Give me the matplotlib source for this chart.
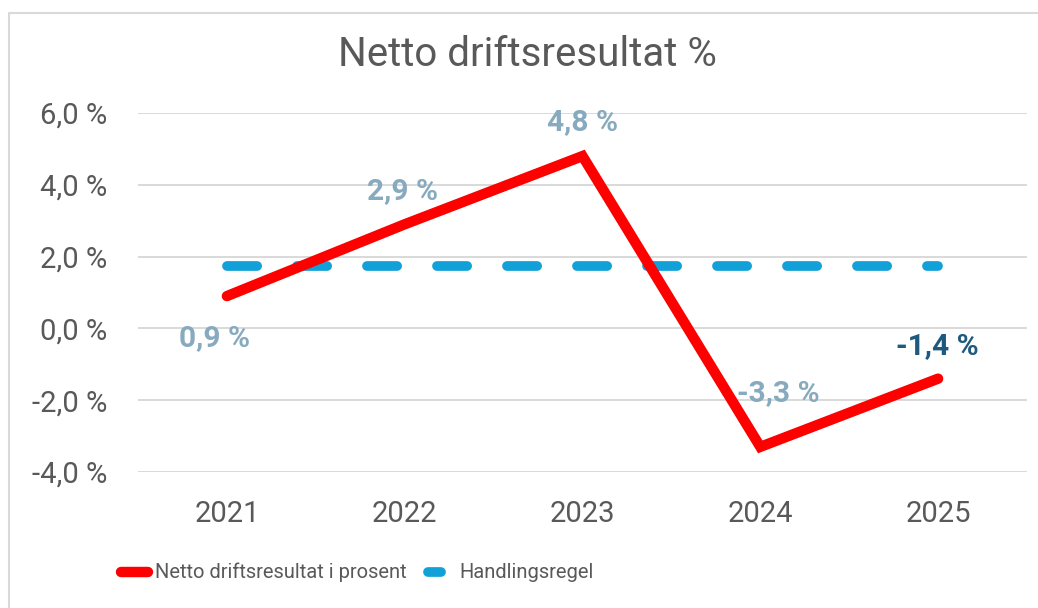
import matplotlib
matplotlib.use("Agg")
import matplotlib.pyplot as plt
from matplotlib.lines import Line2D
from matplotlib.ticker import FuncFormatter, MultipleLocator

# data
years = ["2021", "2022", "2023", "2024", "2025"]
netto = [0.9, 2.9, 4.8, -3.3, -1.4]
handlingsregel = [1.75, 1.75, 1.75, 1.75, 1.75]
label_texts = ["0,9 %", "2,9 %", "4,8 %", "-3,3 %", "-1,4 %"]
series_names = ["Netto driftsresultat i prosent", "Handlingsregel"]

# label offsets in pixels (dx, dy) relative to each point
label_offsets = [(-12, -42), (-2, 33), (0, 34), (18, 54), (-1, 33)]
label_colors = ["#87AABF", "#87AABF", "#87AABF", "#87AABF", "#1D5A7E"]

plt.rcParams["font.family"] = ["Roboto", "DejaVu Sans"]
text_grey = "#595959"
red = "#FF0000"
blue = "#11A0D7"

fig = plt.figure(figsize=(10.38, 6.08), dpi=100)
W, H = 1038, 608
ax = fig.add_axes([138 / W, 1 - 472 / H, (1027 - 138) / W, (472 - 113) / H])

x = list(range(len(years)))
ax.plot(x, netto, color=red, lw=7.5, solid_capstyle="round",
        solid_joinstyle="miter", zorder=3)
ax.plot(x, handlingsregel, color=blue, lw=7, dash_capstyle="round",
        dashes=(3.1, 4.1), zorder=2)

for i, (val, txt) in enumerate(zip(netto, label_texts)):
    dx, dy = label_offsets[i]
    ax.annotate(txt, (i, val), xytext=(dx, dy), textcoords="offset pixels",
                ha="center", va="center", fontsize=21.5, fontweight="bold",
                color=label_colors[i], zorder=4)

ax.set_xlim(-0.5, len(years) - 0.5)
ax.set_ylim(-4, 6)
ax.yaxis.set_major_locator(MultipleLocator(2))
ax.yaxis.set_major_formatter(FuncFormatter(lambda v, p: f"{v:.1f} %".replace(".", ",")))
ax.set_xticks(x)
ax.set_xticklabels(years)
ax.tick_params(axis="both", length=0, labelsize=21, colors=text_grey)
ax.tick_params(axis="y", pad=22)
ax.tick_params(axis="x", pad=20)
ax.grid(axis="y", color="#D9D9D9", lw=1.4)
ax.set_axisbelow(True)
for s in ax.spines.values():
    s.set_visible(False)

fig.text(527 / W, 1 - 55 / H, "Netto driftsresultat %", ha="center", va="center",
         fontsize=29, color=text_grey)

# legend drawn by hand so the entries sit where they do in the original
ly = 1 - 572 / H
fig.add_artist(Line2D([121 / W, 148 / W], [ly, ly], transform=fig.transFigure,
                      color=red, lw=7.5, solid_capstyle="round"))
fig.text(155 / W, ly, series_names[0], ha="left", va="center", fontsize=14.5,
         color=text_grey)
fig.add_artist(Line2D([428 / W, 441 / W], [ly, ly], transform=fig.transFigure,
                      color=blue, lw=7, solid_capstyle="round"))
fig.text(459 / W, ly, series_names[1], ha="left", va="center", fontsize=14.5,
         color=text_grey)

# outer chart border (light grey), cut off by the screenshot on right/bottom
fig.add_artist(Line2D([8.5 / W, 8.5 / W, 1.0], [0, 1 - 12.5 / H, 1 - 12.5 / H],
                      transform=fig.transFigure, color="#D9D9D9", lw=1.5))

fig.savefig("out.png", dpi=100)
